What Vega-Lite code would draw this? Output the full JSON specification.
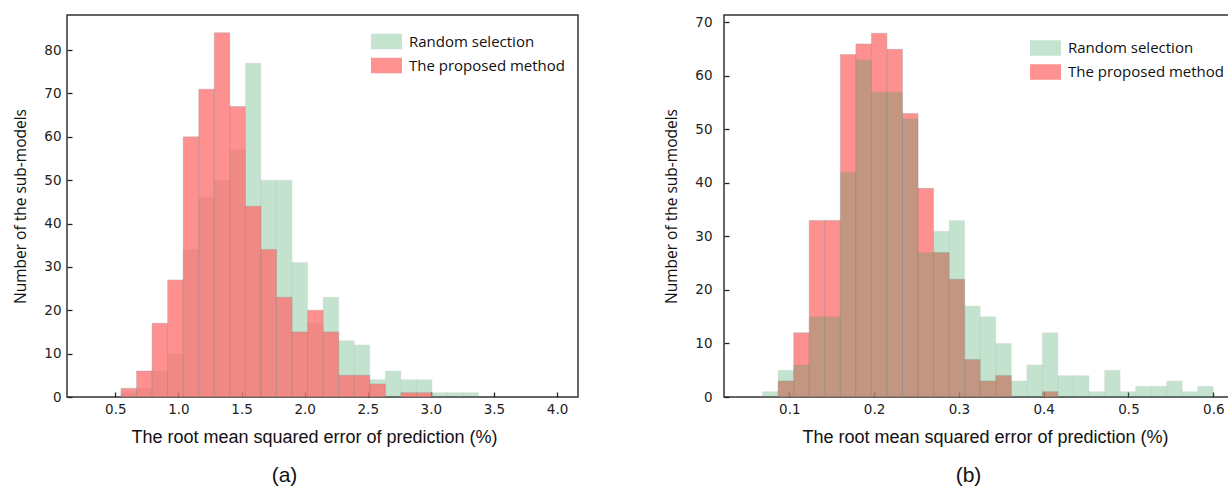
{
  "$schema": "https://vega.github.io/schema/vega-lite/v6.json",
  "padding": {"left": 13, "top": 14, "right": 0, "bottom": 0},
  "config": {
    "view": {"stroke": "#333", "strokeWidth": 1.5},
    "axis": {"grid": false, "domain": false, "tickSize": -5, "tickColor": "#222", "tickWidth": 1.3, "labelFont": "DejaVu Sans", "labelFontSize": 13.5, "labelColor": "#222", "titleFontWeight": "normal", "titleColor": "#111", "labelFlush": false},
    "axisX": {"labelPadding": 10, "titleFont": "Liberation Sans", "titleFontSize": 18, "titlePadding": 13},
    "axisY": {"titleFont": "Open Sans", "titleFontSize": 15.5, "titlePadding": 15},
    "title": {"font": "Liberation Sans", "fontSize": 21, "fontWeight": "normal", "orient": "bottom", "color": "#111", "frame": "group"},
    "legend": {"orient": "none", "symbolType": "M-1,-0.5H1V0.5H-1Z", "symbolSize": 961, "symbolStrokeWidth": 0, "labelFont": "Open Sans", "labelFontSize": 15, "labelColor": "#111", "labelOffset": 7, "rowPadding": -1, "padding": 0}
  },
  "datasets": {
    "a": [
      {"s": "Random selection", "x0": 0.545, "x1": 0.6682, "n": 1},
      {"s": "Random selection", "x0": 0.6682, "x1": 0.7914, "n": 2},
      {"s": "Random selection", "x0": 0.7914, "x1": 0.9146, "n": 6},
      {"s": "Random selection", "x0": 0.9146, "x1": 1.0378, "n": 10},
      {"s": "Random selection", "x0": 1.0378, "x1": 1.161, "n": 34},
      {"s": "Random selection", "x0": 1.161, "x1": 1.2842, "n": 46},
      {"s": "Random selection", "x0": 1.2842, "x1": 1.4074, "n": 50},
      {"s": "Random selection", "x0": 1.4074, "x1": 1.5306, "n": 57},
      {"s": "Random selection", "x0": 1.5306, "x1": 1.6538, "n": 77},
      {"s": "Random selection", "x0": 1.6538, "x1": 1.777, "n": 50},
      {"s": "Random selection", "x0": 1.777, "x1": 1.9002, "n": 50},
      {"s": "Random selection", "x0": 1.9002, "x1": 2.0234, "n": 31},
      {"s": "Random selection", "x0": 2.0234, "x1": 2.1466, "n": 17},
      {"s": "Random selection", "x0": 2.1466, "x1": 2.2698, "n": 23},
      {"s": "Random selection", "x0": 2.2698, "x1": 2.393, "n": 13},
      {"s": "Random selection", "x0": 2.393, "x1": 2.5162, "n": 12},
      {"s": "Random selection", "x0": 2.5162, "x1": 2.6394, "n": 4},
      {"s": "Random selection", "x0": 2.6394, "x1": 2.7626, "n": 6},
      {"s": "Random selection", "x0": 2.7626, "x1": 2.8858, "n": 4},
      {"s": "Random selection", "x0": 2.8858, "x1": 3.009, "n": 4},
      {"s": "Random selection", "x0": 3.009, "x1": 3.1322, "n": 1},
      {"s": "Random selection", "x0": 3.1322, "x1": 3.2554, "n": 1},
      {"s": "Random selection", "x0": 3.2554, "x1": 3.3786, "n": 1},
      {"s": "The proposed method", "x0": 0.545, "x1": 0.6682, "n": 2},
      {"s": "The proposed method", "x0": 0.6682, "x1": 0.7914, "n": 6},
      {"s": "The proposed method", "x0": 0.7914, "x1": 0.9146, "n": 17},
      {"s": "The proposed method", "x0": 0.9146, "x1": 1.0378, "n": 27},
      {"s": "The proposed method", "x0": 1.0378, "x1": 1.161, "n": 60},
      {"s": "The proposed method", "x0": 1.161, "x1": 1.2842, "n": 71},
      {"s": "The proposed method", "x0": 1.2842, "x1": 1.4074, "n": 84},
      {"s": "The proposed method", "x0": 1.4074, "x1": 1.5306, "n": 67},
      {"s": "The proposed method", "x0": 1.5306, "x1": 1.6538, "n": 44},
      {"s": "The proposed method", "x0": 1.6538, "x1": 1.777, "n": 34},
      {"s": "The proposed method", "x0": 1.777, "x1": 1.9002, "n": 23},
      {"s": "The proposed method", "x0": 1.9002, "x1": 2.0234, "n": 15},
      {"s": "The proposed method", "x0": 2.0234, "x1": 2.1466, "n": 20},
      {"s": "The proposed method", "x0": 2.1466, "x1": 2.2698, "n": 15},
      {"s": "The proposed method", "x0": 2.2698, "x1": 2.393, "n": 5},
      {"s": "The proposed method", "x0": 2.393, "x1": 2.5162, "n": 5},
      {"s": "The proposed method", "x0": 2.5162, "x1": 2.6394, "n": 3},
      {"s": "The proposed method", "x0": 2.7626, "x1": 2.8858, "n": 1},
      {"s": "The proposed method", "x0": 2.8858, "x1": 3.009, "n": 1}
    ],
    "b": [
      {"s": "The proposed method", "x0": 0.0868, "x1": 0.1052, "n": 3},
      {"s": "The proposed method", "x0": 0.1052, "x1": 0.1235, "n": 12},
      {"s": "The proposed method", "x0": 0.1235, "x1": 0.1418, "n": 33},
      {"s": "The proposed method", "x0": 0.1418, "x1": 0.1602, "n": 33},
      {"s": "The proposed method", "x0": 0.1602, "x1": 0.1785, "n": 64},
      {"s": "The proposed method", "x0": 0.1785, "x1": 0.1968, "n": 66},
      {"s": "The proposed method", "x0": 0.1968, "x1": 0.2151, "n": 68},
      {"s": "The proposed method", "x0": 0.2151, "x1": 0.2335, "n": 65},
      {"s": "The proposed method", "x0": 0.2335, "x1": 0.2518, "n": 53},
      {"s": "The proposed method", "x0": 0.2518, "x1": 0.2701, "n": 39},
      {"s": "The proposed method", "x0": 0.2701, "x1": 0.2885, "n": 27},
      {"s": "The proposed method", "x0": 0.2885, "x1": 0.3068, "n": 22},
      {"s": "The proposed method", "x0": 0.3068, "x1": 0.3251, "n": 7},
      {"s": "The proposed method", "x0": 0.3251, "x1": 0.3435, "n": 3},
      {"s": "The proposed method", "x0": 0.3435, "x1": 0.3618, "n": 4},
      {"s": "The proposed method", "x0": 0.3984, "x1": 0.4168, "n": 1},
      {"s": "Random selection", "x0": 0.0685, "x1": 0.0868, "n": 1},
      {"s": "Random selection", "x0": 0.0868, "x1": 0.1052, "n": 5},
      {"s": "Random selection", "x0": 0.1052, "x1": 0.1235, "n": 6},
      {"s": "Random selection", "x0": 0.1235, "x1": 0.1418, "n": 15},
      {"s": "Random selection", "x0": 0.1418, "x1": 0.1602, "n": 15},
      {"s": "Random selection", "x0": 0.1602, "x1": 0.1785, "n": 42},
      {"s": "Random selection", "x0": 0.1785, "x1": 0.1968, "n": 63},
      {"s": "Random selection", "x0": 0.1968, "x1": 0.2151, "n": 57},
      {"s": "Random selection", "x0": 0.2151, "x1": 0.2335, "n": 57},
      {"s": "Random selection", "x0": 0.2335, "x1": 0.2518, "n": 52},
      {"s": "Random selection", "x0": 0.2518, "x1": 0.2701, "n": 27},
      {"s": "Random selection", "x0": 0.2701, "x1": 0.2885, "n": 31},
      {"s": "Random selection", "x0": 0.2885, "x1": 0.3068, "n": 33},
      {"s": "Random selection", "x0": 0.3068, "x1": 0.3251, "n": 17},
      {"s": "Random selection", "x0": 0.3251, "x1": 0.3435, "n": 15},
      {"s": "Random selection", "x0": 0.3435, "x1": 0.3618, "n": 10},
      {"s": "Random selection", "x0": 0.3618, "x1": 0.3801, "n": 3},
      {"s": "Random selection", "x0": 0.3801, "x1": 0.3984, "n": 6},
      {"s": "Random selection", "x0": 0.3984, "x1": 0.4168, "n": 12},
      {"s": "Random selection", "x0": 0.4168, "x1": 0.4351, "n": 4},
      {"s": "Random selection", "x0": 0.4351, "x1": 0.4534, "n": 4},
      {"s": "Random selection", "x0": 0.4534, "x1": 0.4718, "n": 1},
      {"s": "Random selection", "x0": 0.4718, "x1": 0.4901, "n": 5},
      {"s": "Random selection", "x0": 0.4901, "x1": 0.5084, "n": 1},
      {"s": "Random selection", "x0": 0.5084, "x1": 0.5268, "n": 2},
      {"s": "Random selection", "x0": 0.5268, "x1": 0.5451, "n": 2},
      {"s": "Random selection", "x0": 0.5451, "x1": 0.5634, "n": 3},
      {"s": "Random selection", "x0": 0.5634, "x1": 0.5817, "n": 1},
      {"s": "Random selection", "x0": 0.5817, "x1": 0.6, "n": 2}
    ]
  },
  "spacing": 85,
  "resolve": {"scale": {"color": "independent", "opacity": "independent", "x": "independent", "y": "independent"}, "legend": {"color": "independent", "opacity": "independent"}},
  "hconcat": [
    {
      "width": 511,
      "height": 382,
      "data": {"name": "a"},
      "title": {"text": "(a)", "dx": -38, "offset": 18},
      "mark": {"type": "bar", "stroke": "#777", "strokeWidth": 1, "strokeOpacity": 0.35},
      "encoding": {
        "x": {"field": "x0", "type": "quantitative", "scale": {"domain": [0.117, 4.166], "nice": false, "zero": false}, "axis": {"title": "The root mean squared error of prediction (%)", "titleX": 247, "values": [0.5, 1, 1.5, 2, 2.5, 3, 3.5, 4], "format": ".1f"}},
        "x2": {"field": "x1"},
        "y": {"field": "n", "type": "quantitative", "stack": null, "scale": {"domain": [0, 88.1], "nice": false}, "axis": {"title": "Number of the sub-models", "values": [0, 10, 20, 30, 40, 50, 60, 70, 80], "labelPadding": 11}},
        "y2": {"datum": 0},
        "color": {"field": "s", "type": "nominal", "scale": {"domain": ["Random selection", "The proposed method"], "range": ["#3ca564", "#ff6c6c"]}, "legend": {"title": null, "legendX": 304, "legendY": 11}},
        "opacity": {"field": "s", "type": "nominal", "scale": {"domain": ["Random selection", "The proposed method"], "range": [0.3, 0.75]}, "legend": {"title": null, "legendX": 304, "legendY": 11}}
      }
    },
    {
      "width": 511,
      "height": 382,
      "data": {"name": "b"},
      "title": {"text": "(b)", "dx": -11, "offset": 18},
      "mark": {"type": "bar", "stroke": "#777", "strokeWidth": 1, "strokeOpacity": 0.35},
      "encoding": {
        "x": {"field": "x0", "type": "quantitative", "scale": {"domain": [0.023, 0.6256], "nice": false, "zero": false}, "axis": {"title": "The root mean squared error of prediction (%)", "titleX": 261, "values": [0.1, 0.2, 0.3, 0.4, 0.5, 0.6], "format": ".1f"}},
        "x2": {"field": "x1"},
        "y": {"field": "n", "type": "quantitative", "stack": null, "scale": {"domain": [0, 71.4], "nice": false}, "axis": {"title": "Number of the sub-models", "values": [0, 10, 20, 30, 40, 50, 60, 70], "labelPadding": 17}},
        "y2": {"datum": 0},
        "color": {"field": "s", "type": "nominal", "scale": {"domain": ["Random selection", "The proposed method"], "range": ["#3ca564", "#ff6c6c"]}, "legend": {"title": null, "legendX": 306, "legendY": 17.5}},
        "opacity": {"field": "s", "type": "nominal", "scale": {"domain": ["Random selection", "The proposed method"], "range": [0.3, 0.75]}, "legend": {"title": null, "legendX": 306, "legendY": 17.5}}
      }
    }
  ]
}
